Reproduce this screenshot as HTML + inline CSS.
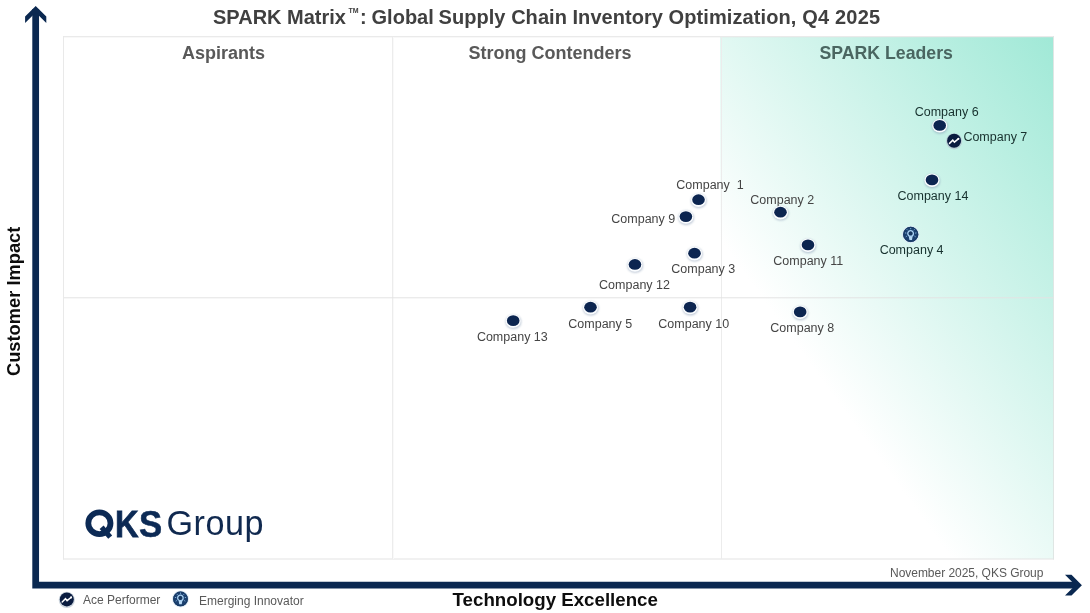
<!DOCTYPE html>
<html>
<head>
<meta charset="utf-8">
<title>SPARK Matrix</title>
<style>
  html, body { margin: 0; padding: 0; background: #ffffff; }
  body { width: 1090px; height: 613px; position: relative; overflow: hidden;
         font-family: "Liberation Sans", sans-serif; }
  .abs { position: absolute; white-space: nowrap; line-height: 1; }
  #layer { position: absolute; left: 0; top: 0; width: 1090px; height: 613px; will-change: transform; }
  #grad { position: absolute; left: 720px; top: 37px; width: 333px; height: 522px;
          background: linear-gradient(54deg, #ffffff 0%, #ffffff 32.5%, #a1e9d7 99.5%); }
  .title { left: 213px; top: 7px; font-size: 20px; font-weight: bold; color: #404040; }
  .title sup { font-size: 7px; vertical-align: baseline; position: relative; top: -10.8px; letter-spacing: 0; margin-left: 2.4px; margin-right: 1.6px; }
  .hdr { font-size: 18px; font-weight: bold; color: #595959; }
  .lbl { font-size: 12.5px; color: #454545; }
  .lbl.g { color: #17312e; }
  .foot { font-size: 12px; color: #595959; }
  .axis { font-size: 18.7px; font-weight: bold; color: #0d0d0d; }
</style>
</head>
<body>

<div id="layer">
<div id="grad"></div>
<svg class="abs" style="left:0; top:0;" width="1090" height="613" viewBox="0 0 1090 613">
  <g fill="#e3e3e3">
    <rect x="63" y="36.25" width="991" height="1"/>
    <rect x="63" y="558.5" width="991" height="1"/>
    <rect x="63" y="36.25" width="1" height="523.25" fill="#e9e9e9"/>
    <rect x="1053" y="36.25" width="1" height="523.25" fill="#dfe6e4"/>
    <rect x="392" y="37" width="1" height="522" fill="#ececec"/>
    <rect x="393" y="37" width="1" height="522" fill="#f9f9f9"/>
    <rect x="721" y="37" width="1" height="522" fill="#ececec"/>
    <rect x="64" y="297.3" width="989" height="1"/>
  </g>
</svg>

<!-- title -->
<div class="abs title">SPARK Matrix<sup>TM</sup><span style="word-spacing:-0.75px">: Global </span><span style="letter-spacing:0.045px">Supply Chain Inventory </span><span style="letter-spacing:0.1px">Optimization, </span><span style="letter-spacing:0.2px">Q4 2025</span></div>

<!-- column headers -->
<div class="abs hdr" style="left:182px; top:44px;">Aspirants</div>
<div class="abs hdr" style="left:468.5px; top:44px;">Strong Contenders</div>
<div class="abs hdr" style="left:819.5px; top:45.1px; color:#4a6661; font-size:17.7px;">SPARK Leaders</div>

<!-- axis labels -->
<div class="abs axis" style="left:452.6px; top:591.2px;">Technology Excellence</div>
<div class="abs axis" id="yaxis" style="font-size:18.3px; left:0; top:0; transform-origin:0 0; transform: translate(5.4px,376px) rotate(-90deg);">Customer Impact</div>

<!-- footer -->
<div class="abs foot" style="left:890px; top:566.7px; letter-spacing:-0.03px;">November 2025, QKS Group</div>
<div class="abs foot" style="left:83px; top:594px;">Ace Performer</div>
<div class="abs foot" style="left:199px; top:595px;">Emerging Innovator</div>

<!-- logo -->
<div class="abs" id="grp" style="left:166.5px; top:506.1px; font-size:34.2px; color:#10294f; letter-spacing:0.5px;">Group</div>

<!-- labels -->
<div class="abs lbl g" style="left:914.7px; top:105.8px;">Company 6</div>
<div class="abs lbl g" style="left:963.4px; top:130.8px;">Company 7</div>
<div class="abs lbl g" style="left:897.5px; top:189.8px;">Company 14</div>
<div class="abs lbl g" style="left:879.65px; top:243.7px;">Company 4</div>
<div class="abs lbl" style="left:676.3px; top:179px;">Company&nbsp; 1</div>
<div class="abs lbl" style="left:750.3px; top:194px;">Company 2</div>
<div class="abs lbl" style="left:611.3px; top:213px;">Company 9</div>
<div class="abs lbl" style="left:671.3px; top:263px;">Company 3</div>
<div class="abs lbl" style="left:773.3px; top:255px;">Company 11</div>
<div class="abs lbl" style="left:599.1px; top:278.6px;">Company 12</div>
<div class="abs lbl" style="left:476.9px; top:330.6px;">Company 13</div>
<div class="abs lbl" style="left:568.3px; top:318px;">Company 5</div>
<div class="abs lbl" style="left:658.3px; top:318px;">Company 10</div>
<div class="abs lbl" style="left:770.3px; top:322px;">Company 8</div>

<!-- vector layer: arrows, dots, icons -->
<svg class="abs" style="left:0; top:0;" width="1090" height="613" viewBox="0 0 1090 613">
  <defs>
    <filter id="sb" x="-50%" y="-50%" width="200%" height="200%"><feGaussianBlur stdDeviation="0.9"/></filter>
    <g id="dot">
      <ellipse cx="0.25" cy="1.2" rx="7.9" ry="7.2" fill="#7f92ae" opacity="0.5" filter="url(#sb)"/>
      <ellipse cx="0" cy="0.4" rx="7.55" ry="6.8" fill="#fbfdff"/>
      <ellipse cx="0" cy="0" rx="6.3" ry="5.35" fill="#0c2550"/>
    </g>
    <g id="ace">
      <circle cx="0" cy="0.5" r="8.1" fill="#b5c2cf" opacity="0.7"/>
      <circle cx="0" cy="0" r="7" fill="#0a1c40"/>
      <polyline points="-4.6,2.6 -1.3,-0.7 0.3,1.3 4.2,-1.9" fill="none" stroke="#ffffff" stroke-width="1.5" stroke-linejoin="miter" stroke-linecap="round"/>
      <circle cx="4.3" cy="-2" r="1.05" fill="#ffffff"/>
    </g>
    <g id="emg">
      <circle cx="0" cy="0" r="8.5" fill="#dce9f4" opacity="0.85"/>
      <circle cx="0" cy="0" r="7.4" fill="#1b406f"/>
      <circle cx="0" cy="0" r="7" fill="none" stroke="#163760" stroke-width="0.8"/>
      <path d="M-1.9,1.5 L1.9,1.5 L1.25,5.3 L-1.25,5.3 Z" fill="#b7d8f4"/>
      <circle cx="-0.1" cy="-1" r="2.75" fill="#17375f" stroke="#a9d1f3" stroke-width="1.3"/>
      <g stroke="#8fbfe8" stroke-width="0.95" stroke-linecap="butt" opacity="0.9">
        <line x1="0" y1="-5.1" x2="0" y2="-6.3"/>
        <line x1="2.95" y1="-4.1" x2="3.8" y2="-5"/>
        <line x1="-2.95" y1="-4.1" x2="-3.8" y2="-5"/>
        <line x1="4.3" y1="-1.3" x2="5.6" y2="-1.5"/>
        <line x1="-4.3" y1="-1.3" x2="-5.6" y2="-1.5"/>
        <line x1="3.7" y1="1.6" x2="4.8" y2="2.3"/>
        <line x1="-3.7" y1="1.6" x2="-4.8" y2="2.3"/>
      </g>
    </g>
  </defs>

  <!-- axes -->
  <path d="M32.3,9 H39.05 V581.85 H1078 V588.5 H32.3 Z" fill="#0a2850"/>
  <path d="M35.7,5.9 L46.3,16.5 L46.3,23 L35.7,12.4 L25.1,23 L25.1,16.5 Z" fill="#0a2850"/>
  <path d="M1081.9,585.2 L1071.5,574.8 L1065,574.8 L1075.4,585.2 L1065,595.6 L1071.5,595.6 Z" fill="#0a2850"/>

  <!-- logo: QKS -->
  <g id="qkslogo" fill="#0c2a55">
    <ellipse cx="99.4" cy="523.2" rx="11.1" ry="10.85" fill="none" stroke="#0c2a55" stroke-width="5.8"/>
    <line x1="101.6" y1="527.2" x2="110.2" y2="537.1" stroke="#0c2a55" stroke-width="5.2"/>
    <text transform="translate(115.1,536.8) scale(0.865,1)" font-family="Liberation Sans, sans-serif" font-weight="bold" font-size="37.8" stroke="#0c2a55" stroke-width="0.8">K</text>
    <text transform="translate(139.1,536.8) scale(0.92,1)" font-family="Liberation Sans, sans-serif" font-weight="bold" font-size="37.8" stroke="#0c2a55" stroke-width="0.6">S</text>
  </g>

  <!-- dots -->
  <use href="#dot" x="939.7" y="125.4"/>
  <use href="#dot" x="932" y="179.9"/>
  <use href="#dot" x="698.5" y="199.7"/>
  <use href="#dot" x="685.9" y="216.6"/>
  <use href="#dot" x="780.5" y="212.2"/>
  <use href="#dot" x="694.5" y="253.2"/>
  <use href="#dot" x="808" y="244.9"/>
  <use href="#dot" x="634.95" y="264.45"/>
  <use href="#dot" x="513.2" y="320.65"/>
  <use href="#dot" x="590.5" y="307.2"/>
  <use href="#dot" x="690.1" y="307.15"/>
  <use href="#dot" x="800.15" y="311.9"/>
  <use href="#ace" x="954.1" y="140.8"/>
  <use href="#emg" transform="translate(910.7,234.45) scale(1.025)"/>

  <!-- legend icons -->
  <use href="#ace" x="66.8" y="599.4"/>
  <use href="#emg" x="180.5" y="598.9"/>
</svg>

</div>
</body>
</html>
